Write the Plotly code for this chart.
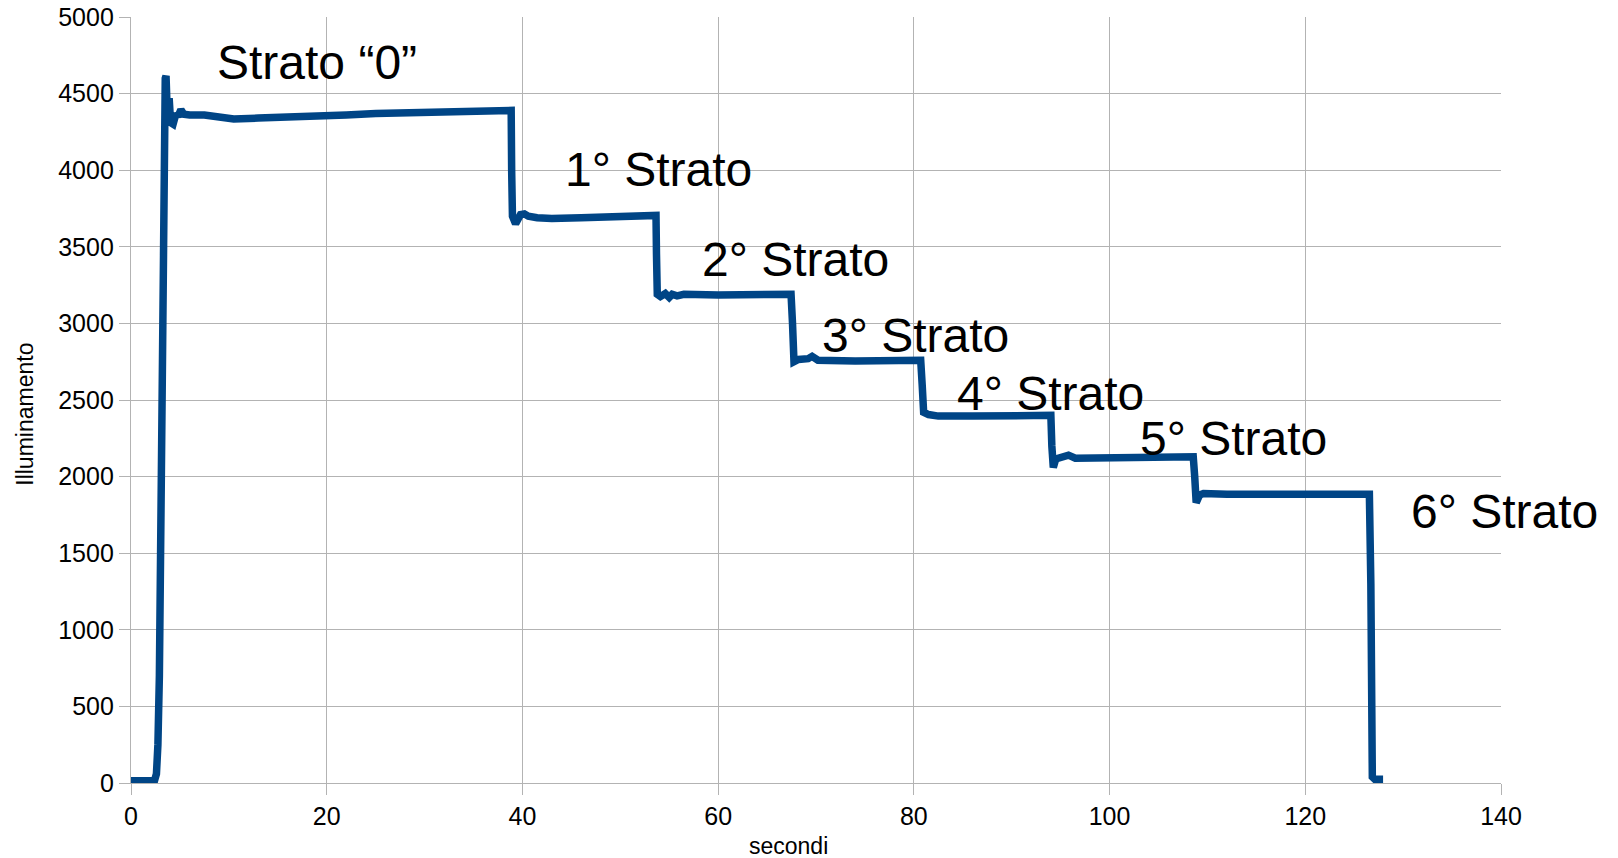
import plotly.graph_objects as go

# Illuminance readings (time in seconds, illuminance)
tempo = [0, 2.4, 2.6, 2.75, 2.9, 3.1, 3.3, 3.5, 3.58, 3.75, 3.9, 4.05, 4.3, 4.6, 4.8,
         5.1, 5.4, 6.0, 7.5, 9.0, 10.5, 13, 16, 18, 20, 21, 22, 25, 28, 31, 34, 36.5,
         38.6, 38.85, 38.9, 38.98, 39.3, 39.5, 39.8, 40.2, 40.6, 41.5, 43, 46, 49, 52,
         53.65, 53.7, 53.78, 54.1, 54.6, 55.0, 55.3, 55.8, 56.5, 60, 64, 67.45, 67.6,
         67.75, 68.2, 69.2, 69.6, 70.2, 74, 78, 80.7, 80.85, 81.0, 81.5, 82.5, 86, 90,
         94.0, 94.1, 94.25, 94.5, 95.0, 95.8, 96.5, 100, 104, 108.55, 108.7, 108.85,
         109.2, 109.6, 112, 118, 124, 126.55, 126.7, 126.75, 126.85, 127.1, 127.95]
illuminamento = [15, 15, 60, 250, 700, 2400, 4000, 4600, 4615, 4290, 4470, 4310, 4300,
                 4370, 4350, 4395, 4365, 4360, 4360, 4345, 4335, 4340, 4345, 4345, 4350,
                 4360, 4360, 4370, 4375, 4380, 4390, 4390, 4395, 4390, 4000, 3700, 3650,
                 3680, 3710, 3715, 3700, 3690, 3685, 3690, 3695, 3700, 3705, 3450, 3190,
                 3175, 3195, 3170, 3190, 3180, 3190, 3185, 3190, 3190, 3000, 2750, 2765,
                 2770, 2785, 2760, 2755, 2755, 2760, 2600, 2420, 2405, 2395, 2395, 2395,
                 2400, 2200, 2060, 2115, 2125, 2140, 2120, 2120, 2125, 2130, 2000, 1830,
                 1880, 1890, 1885, 1885, 1885, 1885, 1300, 150, 40, 25, 25]

# Layer labels and their positions (left edge in seconds, vertical centre)
etichette = ["Strato \u201c0\u201d", "1\u00b0 Strato", "2\u00b0 Strato", "3\u00b0 Strato",
             "4\u00b0 Strato", "5\u00b0 Strato", "6\u00b0 Strato"]
etichette_x = [8.6, 44.1, 58.1, 70.4, 84.2, 102.9, 130.6]
etichette_y = [4700, 4004, 3416, 2920, 2540, 2250, 1770]

x_ticks = [0, 20, 40, 60, 80, 100, 120, 140]
y_ticks = [0, 500, 1000, 1500, 2000, 2500, 3000, 3500, 4000, 4500, 5000]

FONT = "Liberation Sans, Arial, sans-serif"
GRID = "#b3b3b3"

fig = go.Figure()
fig.add_trace(go.Scatter(
    x=tempo, y=illuminamento, mode="lines",
    line=dict(color="#004586", width=7.5),
    showlegend=False, hoverinfo="x+y",
))

for testo, tx, ty in zip(etichette, etichette_x, etichette_y):
    fig.add_annotation(x=tx, y=ty, xref="x", yref="y", text=testo, showarrow=False,
                       xanchor="left", yanchor="middle",
                       font=dict(family=FONT, size=48, color="#000000"))

# Axis titles
fig.add_annotation(x=(788 - 131) / 1370, y=-(846 - 783) / 765.5, xref="paper", yref="paper",
                   text="secondi", showarrow=False, xanchor="center", yanchor="middle",
                   font=dict(family=FONT, size=23, color="#000000"))
fig.add_annotation(x=-(131 - 25) / 1370, y=(783 - 415) / 765.5, xref="paper", yref="paper",
                   text="Illuminamento", showarrow=False, textangle=-90,
                   xanchor="center", yanchor="middle",
                   font=dict(family=FONT, size=23, color="#000000"))

axis_common = dict(
    showline=True, linecolor=GRID, linewidth=1.3,
    showgrid=True, gridcolor=GRID, gridwidth=1.3,
    ticks="outside", ticklen=11, tickcolor=GRID, tickwidth=1.3,
    tickfont=dict(family=FONT, size=25, color="#000000"),
    zeroline=False, mirror=False, automargin=False,
)
fig.update_xaxes(range=[0, 140], tickvals=x_ticks, **axis_common)
fig.update_yaxes(range=[0, 5000], tickvals=y_ticks, **axis_common)

fig.update_layout(
    width=1618, height=858,
    margin=dict(l=131, r=117, t=17, b=75),
    plot_bgcolor="#ffffff", paper_bgcolor="#ffffff",
    font=dict(family=FONT),
)

fig.write_html("out.html")
